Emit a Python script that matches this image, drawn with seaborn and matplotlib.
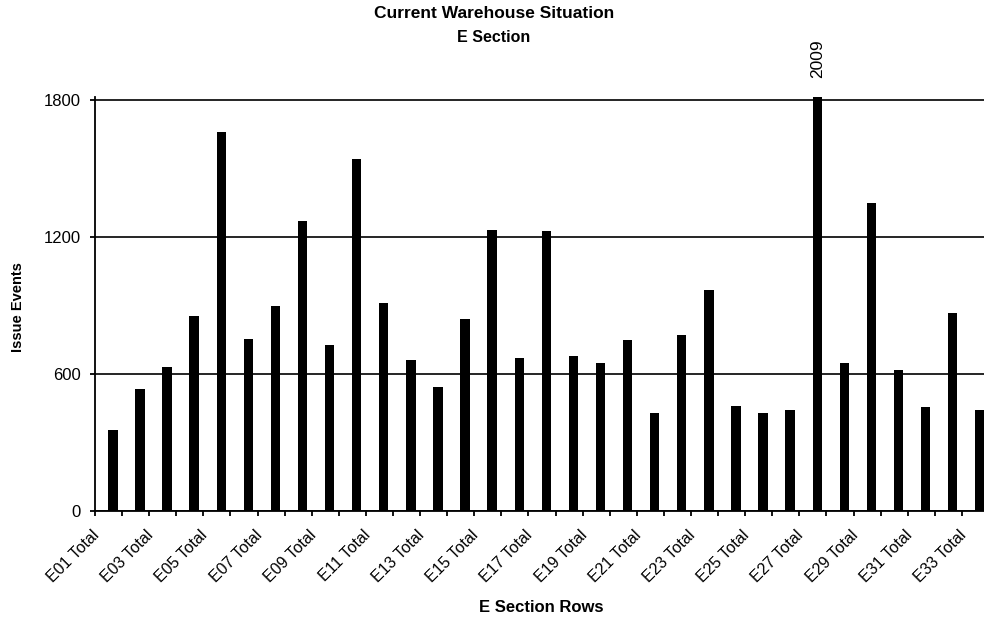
import matplotlib
matplotlib.use("Agg")
import matplotlib.pyplot as plt
import matplotlib.transforms as mtransforms
import numpy as np
import pandas as pd
import seaborn as sns

# Issue events per row of the E section
rows = [
    "E01 Total", "E02 Total", "E03 Total", "E04 Total", "E05 Total", "E06 Total",
    "E07 Total", "E08 Total", "E09 Total", "E10 Total", "E11 Total", "E12 Total",
    "E13 Total", "E14 Total", "E15 Total", "E16 Total", "E17 Total", "E18 Total",
    "E19 Total", "E20 Total", "E21 Total", "E22 Total", "E23 Total", "E24 Total",
    "E25 Total", "E26 Total", "E27 Total", "E28 Total", "E29 Total", "E30 Total",
    "E31 Total", "E32 Total", "E33 Total",
]
events = [
    354, 534, 630, 856, 1660, 754, 898, 1268, 727, 1542, 911,
    663, 545, 843, 1230, 670, 1227, 678, 648, 749, 428, 769,
    969, 458, 430, 443, 2009, 646, 1348, 618, 456, 868, 444,
]
y_ticks = [0, 600, 1200, 1800]
y_max = 1800

df = pd.DataFrame({"row": rows, "events": events})

sns.set_theme(style="ticks")
plt.rcParams["font.family"] = ["Liberation Sans", "DejaVu Sans"]
plt.rcParams["text.color"] = "black"
plt.rcParams["axes.labelcolor"] = "black"

W, H = 984, 623
fig = plt.figure(figsize=(W / 100, H / 100), dpi=100)
fig.patch.set_facecolor("white")

top_lim = 1815
ax_h = 411 * top_lim / y_max
ax = fig.add_axes([95 / W, (H - 511) / H, 894 / W, ax_h / H])

sns.barplot(data=df, x="row", y="events", color="black", saturation=1,
            width=0.345, edgecolor="black", linewidth=0, ax=ax, zorder=3)

# bars sit a little right of their category centre
shift = 0.16
n = len(rows)
ax.set_xlim(-0.5 - shift, n - 0.5 - shift)
ax.set_ylim(0, top_lim)

# tick marks on category boundaries, labels on every other category
bounds = np.arange(n + 1) - 0.5 - shift
ax.set_xticks(bounds, labels=[""] * len(bounds))
centers = np.arange(0, n, 2)
ax.set_xticks(centers, labels=[rows[i] for i in centers], minor=True)
ax.tick_params(axis="x", which="major", length=5 * 0.72, width=1.3,
               color="black", direction="out", bottom=True)
ax.tick_params(axis="x", which="minor", length=0, pad=15.5, labelsize=11.5,
               labelcolor="black", bottom=True)
offset = mtransforms.ScaledTranslation(-0.16, 0, fig.dpi_scale_trans)
for lbl in ax.get_xticklabels(minor=True):
    lbl.set_rotation(45)
    lbl.set_ha("right")
    lbl.set_va("center")
    lbl.set_rotation_mode("anchor")
    lbl.set_transform(lbl.get_transform() + offset)

ax.set_yticks(y_ticks, labels=[str(v) for v in y_ticks])
ax.tick_params(axis="y", length=5 * 0.72, width=1.3, pad=6.5, labelsize=12,
               color="black", labelcolor="black", left=True, direction="out")

ax.yaxis.grid(True, color="black", linewidth=1.2)
ax.xaxis.grid(False)
ax.set_axisbelow(True)
for side in ("top", "right"):
    ax.spines[side].set_visible(False)
for side in ("left", "bottom"):
    ax.spines[side].set_color("black")
    ax.spines[side].set_linewidth(1.3)
    ax.spines[side].set_zorder(4)

ax.set_xlabel("")
ax.set_ylabel("")

# value label for the bar that runs past the axis maximum
peak = int(np.argmax(events))
ax.annotate(str(events[peak]), xy=(peak, y_max), xytext=(0, 16),
            textcoords="offset points", rotation=90, ha="center",
            va="bottom", fontsize=12.5, color="black", annotation_clip=False)

fig.text(494 / W, 1 - 14 / H, "Current Warehouse Situation", ha="center",
         va="center", fontsize=12.5, fontweight="bold", color="black")
fig.text(494 / W, 1 - 37 / H, "E Section", ha="center", va="center",
         fontsize=11.5, fontweight="bold", color="black")
fig.text(18 / W, 1 - 307 / H, "Issue Events", rotation=90, ha="center",
         va="center", fontsize=10.5, fontweight="bold", color="black")
fig.text(541 / W, 1 - 607 / H, "E Section Rows", ha="center", va="center",
         fontsize=12, fontweight="bold", color="black")

fig.savefig("out.png", dpi=100)
